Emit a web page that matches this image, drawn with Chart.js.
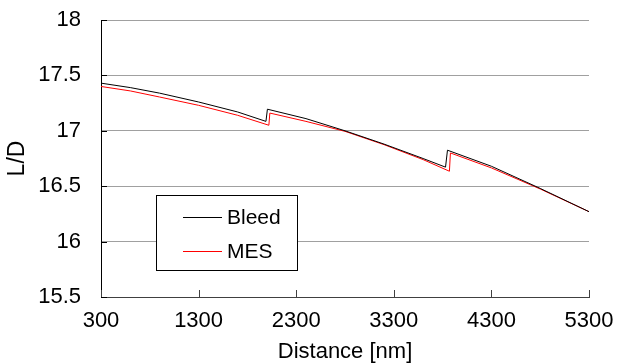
<!DOCTYPE html>
<html>
<head>
<meta charset="utf-8">
<script src="https://cdn.jsdelivr.net/npm/chart.js@4"></script>
<style>
  html, body { margin: 0; padding: 0; background: #fff; }
  #wrap { width: 617px; height: 363px; }
</style>
</head>
<body>
<div id="wrap"><canvas id="c" width="617" height="363"></canvas></div>
<script>
// L/D along the distance for the two configurations
const bleedX = [300, 600, 900, 1300, 1700, 1990, 2005, 2400, 2800, 3200, 3600, 3830, 3850, 4300, 4800, 5300];
const bleedY = [17.43, 17.39, 17.34, 17.26, 17.17, 17.085, 17.195, 17.11, 17.0, 16.88, 16.75, 16.672, 16.825, 16.68, 16.48, 16.27];

const mesX = [300, 600, 900, 1300, 1700, 2020, 2030, 2400, 2800, 3200, 3600, 3870, 3880, 4300, 4800, 5300];
const mesY = [17.40, 17.36, 17.305, 17.23, 17.14, 17.05, 17.16, 17.085, 16.995, 16.875, 16.74, 16.635, 16.80, 16.665, 16.475, 16.27];

const xTicks = [300, 1300, 2300, 3300, 4300, 5300];
const yTicks = [15.5, 16, 16.5, 17, 17.5, 18];

const seriesNames = ['Bleed', 'MES'];
const seriesColors = ['#000000', '#ff0000'];

const FONT = 'Liberation Sans, Arial, sans-serif';

function points(xs, ys) {
  return xs.map((x, i) => ({ x: x, y: ys[i] }));
}

function noOverflow(scale) {
  scale.paddingLeft = 0;
  scale.paddingRight = 0;
  scale.paddingTop = 0;
  scale.paddingBottom = 0;
}

// Inside tick marks on both axes
const insideTicks = {
  id: 'insideTicks',
  afterDatasetsDraw(chart) {
    const { ctx, chartArea, scales } = chart;
    ctx.save();
    ctx.lineWidth = 1;
    ctx.strokeStyle = '#404040';
    ctx.beginPath();
    xTicks.forEach(v => {
      const px = Math.round(scales.x.getPixelForValue(v)) + 0.5;
      ctx.moveTo(px, chartArea.bottom);
      ctx.lineTo(px, chartArea.bottom - 7);
    });
    ctx.stroke();
    ctx.strokeStyle = '#000';
    ctx.beginPath();
    yTicks.forEach(v => {
      const py = Math.round(scales.y.getPixelForValue(v)) + 0.5;
      ctx.moveTo(chartArea.left, py);
      ctx.lineTo(chartArea.left + 6, py);
    });
    ctx.stroke();
    ctx.restore();
  }
};

// Boxed legend inside the plot
const boxLegend = {
  id: 'boxLegend',
  afterDraw(chart) {
    const { ctx } = chart;
    const box = { left: 156, top: 195, width: 141, height: 75 };
    ctx.save();
    ctx.fillStyle = '#fff';
    ctx.fillRect(box.left, box.top, box.width, box.height);
    ctx.strokeStyle = '#000';
    ctx.lineWidth = 1;
    ctx.strokeRect(box.left + 0.5, box.top + 0.5, box.width, box.height);
    chart.data.datasets.forEach((ds, i) => {
      const y = box.top + 22 + i * 34;
      ctx.strokeStyle = ds.borderColor;
      ctx.beginPath();
      ctx.moveTo(box.left + 27, y + 0.5);
      ctx.lineTo(box.left + 66, y + 0.5);
      ctx.stroke();
      ctx.fillStyle = '#000';
      ctx.font = '21px ' + FONT;
      ctx.textBaseline = 'middle';
      ctx.textAlign = 'left';
      ctx.fillText(ds.label, box.left + 71, y + 1);
    });
    ctx.restore();
  }
};

new Chart(document.getElementById('c'), {
  type: 'line',
  data: {
    datasets: [
      { label: seriesNames[0], data: points(bleedX, bleedY), borderColor: seriesColors[0], borderWidth: 1, pointRadius: 0, tension: 0 },
      { label: seriesNames[1], data: points(mesX, mesY), borderColor: seriesColors[1], borderWidth: 1, pointRadius: 0, tension: 0 }
    ]
  },
  options: {
    responsive: false,
    animation: false,
    events: [],
    layout: { padding: { left: 0, top: 20, right: 28, bottom: 0 } },
    plugins: { legend: { display: false }, tooltip: { enabled: false } },
    scales: {
      x: {
        type: 'linear',
        min: 300,
        max: 5300,
        afterBuildTicks(scale) { scale.ticks = xTicks.map(v => ({ value: v })); },
        afterFit(scale) { scale.height = 66; noOverflow(scale); },
        grid: { display: true, drawOnChartArea: false, drawTicks: false },
        border: { display: true, color: '#404040', width: 1 },
        ticks: { color: '#000', font: { family: FONT, size: 22 }, padding: 11, maxRotation: 0, autoSkip: false, callback: v => String(v) },
        title: { display: true, text: 'Distance [nm]', color: '#000', font: { family: FONT, size: 22, lineHeight: 1.0 }, padding: 0 }
      },
      y: {
        type: 'linear',
        min: 15.5,
        max: 18,
        afterBuildTicks(scale) { scale.ticks = yTicks.map(v => ({ value: v })); },
        afterFit(scale) { scale.width = 101; noOverflow(scale); },
        grid: { color: '#a0a0a0', drawTicks: false },
        border: { display: true, color: '#000', width: 1 },
        ticks: { color: '#000', font: { family: FONT, size: 22 }, padding: 20, callback: v => String(v) },
        title: { display: true, text: 'L/D', color: '#000', font: { family: FONT, size: 23 }, padding: { top: 4, bottom: 0 } }
      }
    }
  },
  plugins: [insideTicks, boxLegend]
});
</script>
</body>
</html>
